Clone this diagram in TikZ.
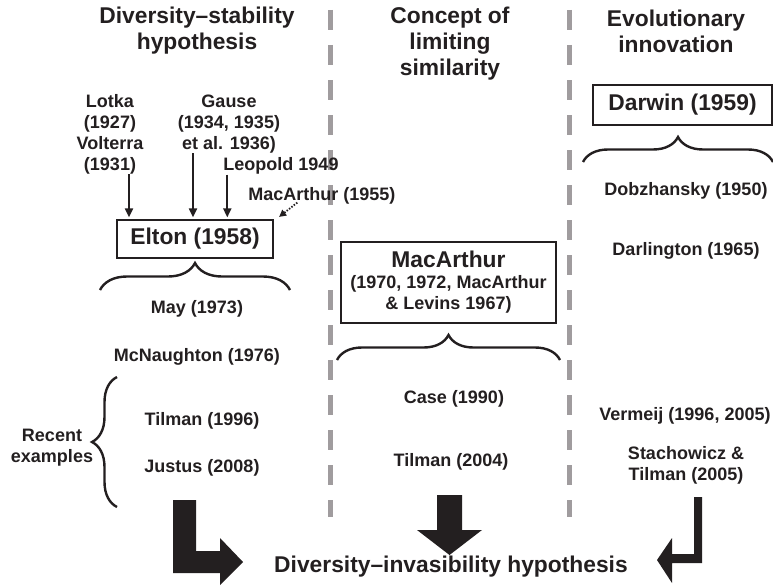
\documentclass[tikz,border=0pt]{standalone}
\usepackage{fontspec}
\setmainfont{Liberation Sans}
\usetikzlibrary{decorations.pathreplacing,arrows.meta}
\definecolor{ink}{HTML}{231F20}
\definecolor{sepgray}{HTML}{A09C9E}
\newcommand{\lgf}{\fontsize{22.8}{26}\selectfont\bfseries}
\newcommand{\smf}{\fontsize{18}{21}\selectfont\bfseries}
\tikzset{
 sm/.style={font=\smf, align=center, text=ink, inner sep=0pt},
 lg/.style={font=\lgf, align=center, text=ink, inner sep=0pt},
 refbox/.style={draw=ink, line width=2.2pt},
 sepline/.style={draw=sepgray, line width=5pt, dash pattern=on 20pt off 15pt},
 brc/.style={draw=ink, line width=2.4pt, decorate, decoration={brace, amplitude=#1}},
 thinarrow/.style={draw=ink, line width=1.9pt, shorten >=1.5pt, -{Triangle[length=9pt,width=8pt]}},
 dotarrow/.style={draw=ink, line width=1.8pt, dash pattern=on 1.5pt off 1.5pt, -{Triangle[length=7pt,width=7pt]}},
}
\begin{document}
\begin{tikzpicture}[x=1pt,y=-1pt]
\useasboundingbox (0,0) rectangle (773,586);
% separators
\draw[sepline] (330.5,10) -- (330.5,517);
\draw[sepline] (569.5,10) -- (569.5,517);
% titles
\node[lg] (t1) at (197,31) {Diversity–stability\\hypothesis};
\node[lg] (t2) at (450,44) {Concept of\\limiting\\similarity};
\node[lg] (t3) at (676,31) {Evolutionary\\innovation};
% left column
\node[sm] (lotka) at (110,134) {Lotka\\(1927)\\Volterra\\(1931)};
\node[sm] (gause) at (229,124) {Gause\\(1934, 1935)\\et al. 1936)};
\node[sm] (leopold) at (281,166) {Leopold 1949};
\node[sm] (mac55) at (322,196) {MacArthur (1955)};
\node[refbox, lg, minimum width=156pt, minimum height=38pt] (elton) at (195,239) {Elton (1958)};
\node[sm] (may) at (197,309) {May (1973)};
\node[sm] (mcn) at (197,357) {McNaughton (1976)};
\node[sm] (til96) at (202,421) {Tilman (1996)};
\node[sm] (justus) at (202,468) {Justus (2008)};
\node[sm] (recent) at (52,448) {Recent\\examples};
% middle column
\node[refbox, sm, minimum width=215pt, minimum height=81pt] (mac) at (448.5,282.5) {{\lgf MacArthur}\\(1970, 1972, MacArthur\\\& Levins 1967)};
\node[sm] (case) at (454,399) {Case (1990)};
\node[sm] (til04) at (451,462) {Tilman (2004)};
% right column
\node[refbox, lg, minimum width=179pt, minimum height=40pt] (darwin) at (682.5,105) {Darwin (1959)};
\node[sm] (dobz) at (686,191) {Dobzhansky (1950)};
\node[sm] (darl) at (686,251) {Darlington (1965)};
\node[sm] (verm) at (685,416) {Vermeij (1996, 2005)};
\node[sm] (stach) at (686,465) {Stachowicz \&\\Tilman (2005)};
% bottom
\node[lg] (div) at (451,567) {Diversity–invasibility hypothesis};
% thin arrows
\draw[thinarrow] ([xshift=19pt]lotka.south) -- ([xshift=19pt]lotka.south |- elton.north);
\draw[thinarrow] ([xshift=-36pt]gause.south) -- ([xshift=-36pt]gause.south |- elton.north);
\draw[thinarrow] ([xshift=4pt]leopold.south west) -- ([xshift=4pt]leopold.south west |- elton.north);
\draw[dotarrow] ([xshift=49pt,yshift=2pt]mac55.south west) -- ([xshift=5pt,yshift=2pt]elton.north east);
% braces
\draw[brc=27pt] (100,290) -- (290,290);
\draw[brc=25pt] (337,360) -- (560,360);
\draw[brc=25pt] (583,162) -- (773,162);
\draw[brc=25pt] (117,507) -- (117,377);
% big arrows
\fill[ink] (173,500) -- (196,500) -- (196,551) -- (220,551) -- (220,538) -- (243,562) -- (220,585) -- (220,573) -- (173,573) -- cycle;
\fill[ink] (437,495) -- (462,495) -- (462,530) -- (482,530) -- (449.5,555) -- (417,530) -- (437,530) -- cycle;
\fill[ink] (694,497) -- (702,497) -- (702,563) -- (672,563) -- (672,583) -- (657,560) -- (672,538) -- (672,554) -- (694,554) -- cycle;
\end{tikzpicture}
\end{document}
